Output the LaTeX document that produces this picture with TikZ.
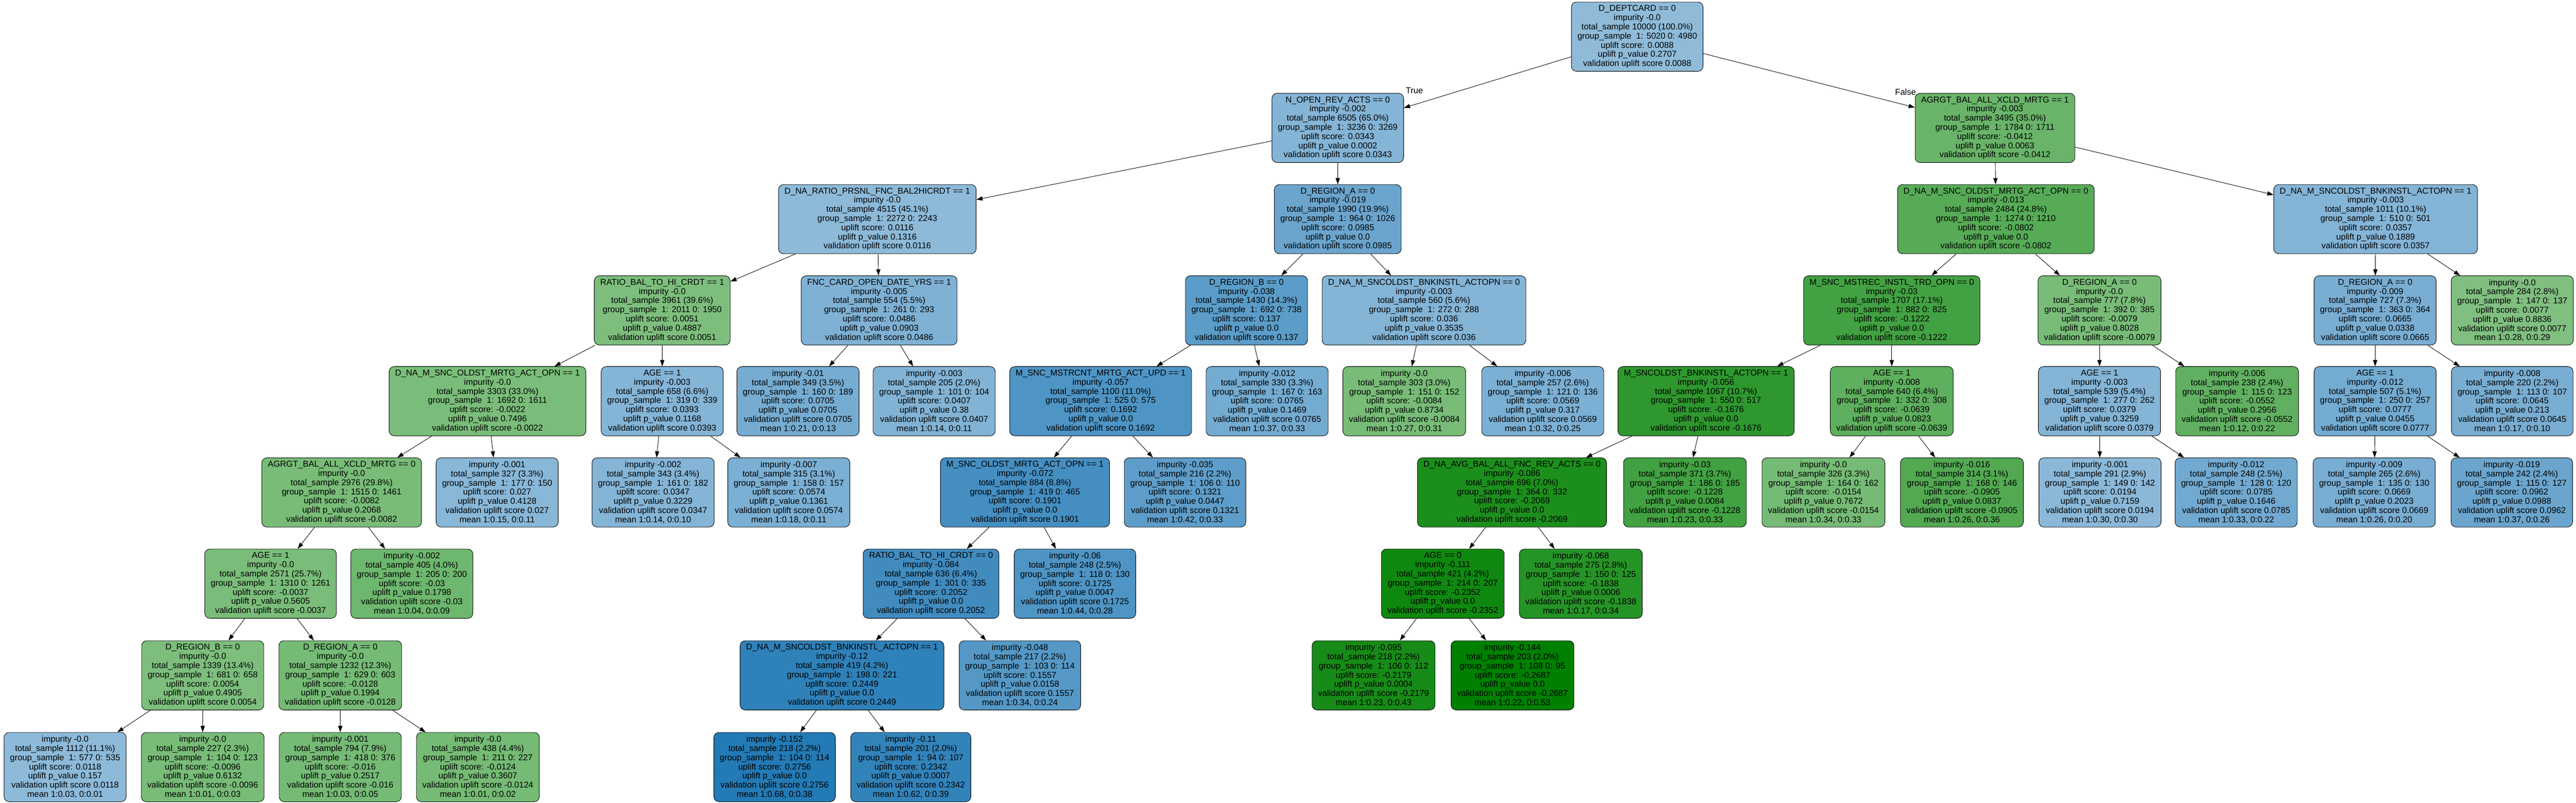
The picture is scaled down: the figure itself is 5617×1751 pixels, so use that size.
\documentclass[tikz,border=0pt]{standalone}
\usepackage{fontspec}
\setmainfont{Liberation Sans}
\usetikzlibrary{arrows.meta}
\definecolor{upblue}{RGB}{31,119,180}
\definecolor{upgreen}{RGB}{0,128,0}
\newcommand{\tstats}[6]{impurity #1\\total\_sample #2\\group\_sample\ \ 1: #3 0: #4\\uplift score: #5\\uplift p\_value #6\\validation uplift score #5}

\begin{document}
\begin{tikzpicture}[x=0.5pt,y=-0.5pt,
  every node/.style={font=\fontsize{9.3pt}{10pt}\selectfont},
  box/.style={draw,rounded corners=5.5pt,line width=0.5pt,align=center,minimum height=75.5pt,inner xsep=6.5pt,inner ysep=2pt},
  bl/.style={box,fill=upblue!#1},
  gr/.style={box,fill=upgreen!#1},
  link/.style={line width=0.5pt,-{Triangle[length=6.8pt,width=4.6pt]}}]
\useasboundingbox (0,0) rectangle (5617,1751);

\node[bl=50] (deptcard) at (3570,80) {D\_DEPTCARD == 0\\\tstats{-0.0}{10000 (100.0\%)}{5020}{4980}{0.0088}{0.2707}};

\node[bl=55] (openrev) at (2917,279) {N\_OPEN\_REV\_ACTS == 0\\\tstats{-0.002}{6505 (65.0\%)}{3236}{3269}{0.0343}{0.0002}};
\node[gr=59] (agrgtA) at (4350,279) {AGRGT\_BAL\_ALL\_XCLD\_MRTG == 1\\\tstats{-0.003}{3495 (35.0\%)}{1784}{1711}{-0.0412}{0.0063}};

\node[bl=51] (ratioprsnl) at (1913,478) {D\_NA\_RATIO\_PRSNL\_FNC\_BAL2HICRDT == 1\\\tstats{-0.0}{4515 (45.1\%)}{2272}{2243}{0.0116}{0.1316}};
\node[bl=66] (regAa) at (2917,478) {D\_REGION\_A == 0\\\tstats{-0.019}{1990 (19.9\%)}{964}{1026}{0.0985}{0.0}};
\node[gr=66] (oldstA) at (4352,478) {D\_NA\_M\_SNC\_OLDST\_MRTG\_ACT\_OPN == 0\\\tstats{-0.013}{2484 (24.8\%)}{1274}{1210}{-0.0802}{0.0}};
\node[bl=55] (bnkA) at (5180,478) {D\_NA\_M\_SNCOLDST\_BNKINSTL\_ACTOPN == 1\\\tstats{-0.003}{1011 (10.1\%)}{510}{501}{0.0357}{0.1889}};

\node[gr=51] (balhiA) at (1444,677) {RATIO\_BAL\_TO\_HI\_CRDT == 1\\\tstats{-0.0}{3961 (39.6\%)}{2011}{1950}{0.0051}{0.4887}};
\node[bl=57] (fnccard) at (1917,677) {FNC\_CARD\_OPEN\_DATE\_YRS == 1\\\tstats{-0.005}{554 (5.5\%)}{261}{293}{0.0486}{0.0903}};
\node[bl=73] (regB) at (2718,677) {D\_REGION\_B == 0\\\tstats{-0.038}{1430 (14.3\%)}{692}{738}{0.137}{0.0}};
\node[bl=55] (bnkB) at (3105,677) {D\_NA\_M\_SNCOLDST\_BNKINSTL\_ACTOPN == 0\\\tstats{-0.003}{560 (5.6\%)}{272}{288}{0.036}{0.3535}};
\node[gr=74] (mstrec) at (4125,677) {M\_SNC\_MSTREC\_INSTL\_TRD\_OPN == 0\\\tstats{-0.03}{1707 (17.1\%)}{882}{825}{-0.1222}{0.0}};
\node[gr=53] (regAb) at (4578,677) {D\_REGION\_A == 0\\\tstats{-0.0}{777 (7.8\%)}{392}{385}{-0.0079}{0.8028}};
\node[bl=60] (regAc) at (5179,677) {D\_REGION\_A == 0\\\tstats{-0.009}{727 (7.3\%)}{363}{364}{0.0665}{0.0338}};
\node[gr=50] (lf284) at (5478,677) {\tstats{-0.0}{284 (2.8\%)}{147}{137}{0.0077}{0.8836}\\mean 1:0.28, 0:0.29};

\node[gr=52] (oldstB) at (1063,875) {D\_NA\_M\_SNC\_OLDST\_MRTG\_ACT\_OPN == 1\\\tstats{-0.0}{3303 (33.0\%)}{1692}{1611}{-0.0022}{0.7496}};
\node[bl=55] (ageA) at (1444,875) {AGE == 1\\\tstats{-0.003}{658 (6.6\%)}{319}{339}{0.0393}{0.1168}};
\node[bl=61] (lf349) at (1740,875) {\tstats{-0.01}{349 (3.5\%)}{160}{189}{0.0705}{0.0705}\\mean 1:0.21, 0:0.13};
\node[bl=56] (lf205) at (2037,875) {\tstats{-0.003}{205 (2.0\%)}{101}{104}{0.0407}{0.38}\\mean 1:0.14, 0:0.11};
\node[bl=79] (mstrcnt) at (2400,875) {M\_SNC\_MSTRCNT\_MRTG\_ACT\_UPD == 1\\\tstats{-0.057}{1100 (11.0\%)}{525}{575}{0.1692}{0.0}};
\node[bl=62] (lf330) at (2763,875) {\tstats{-0.012}{330 (3.3\%)}{167}{163}{0.0765}{0.1469}\\mean 1:0.37, 0:0.33};
\node[gr=53] (lf303) at (3062,875) {\tstats{-0.0}{303 (3.0\%)}{151}{152}{-0.0084}{0.8734}\\mean 1:0.27, 0:0.31};
\node[bl=59] (lf257) at (3364,875) {\tstats{-0.006}{257 (2.6\%)}{121}{136}{0.0569}{0.317}\\mean 1:0.32, 0:0.25};
\node[gr=82] (bnkC) at (3720,875) {M\_SNCOLDST\_BNKINSTL\_ACTOPN == 1\\\tstats{-0.056}{1067 (10.7\%)}{550}{517}{-0.1676}{0.0}};
\node[gr=63] (ageB) at (4125,875) {AGE == 1\\\tstats{-0.008}{640 (6.4\%)}{332}{308}{-0.0639}{0.0823}};
\node[bl=55] (ageC) at (4578,875) {AGE == 1\\\tstats{-0.003}{539 (5.4\%)}{277}{262}{0.0379}{0.3259}};
\node[gr=62] (lf238) at (4878,875) {\tstats{-0.006}{238 (2.4\%)}{115}{123}{-0.0552}{0.2956}\\mean 1:0.12, 0:0.22};
\node[bl=62] (ageD) at (5179,875) {AGE == 1\\\tstats{-0.012}{507 (5.1\%)}{250}{257}{0.0777}{0.0455}};
\node[bl=60] (lf220) at (5478,875) {\tstats{-0.008}{220 (2.2\%)}{113}{107}{0.0645}{0.213}\\mean 1:0.17, 0:0.10};

\node[gr=53] (agrgtB) at (745,1074) {AGRGT\_BAL\_ALL\_XCLD\_MRTG == 0\\\tstats{-0.0}{2976 (29.8\%)}{1515}{1461}{-0.0082}{0.2068}};
\node[bl=53] (lf327) at (1084,1074) {\tstats{-0.001}{327 (3.3\%)}{177}{150}{0.027}{0.4128}\\mean 1:0.15, 0:0.11};
\node[bl=55] (lf343) at (1424,1074) {\tstats{-0.002}{343 (3.4\%)}{161}{182}{0.0347}{0.3229}\\mean 1:0.14, 0:0.10};
\node[bl=59] (lf315) at (1720,1074) {\tstats{-0.007}{315 (3.1\%)}{158}{157}{0.0574}{0.1361}\\mean 1:0.18, 0:0.11};
\node[bl=83] (oldstC) at (2235,1074) {M\_SNC\_OLDST\_MRTG\_ACT\_OPN == 1\\\tstats{-0.072}{884 (8.8\%)}{419}{465}{0.1901}{0.0}};
\node[bl=72] (lf216) at (2584,1074) {\tstats{-0.035}{216 (2.2\%)}{106}{110}{0.1321}{0.0447}\\mean 1:0.42, 0:0.33};
\node[gr=89] (avgbal) at (3297,1074) {D\_NA\_AVG\_BAL\_ALL\_FNC\_REV\_ACTS == 0\\\tstats{-0.086}{696 (7.0\%)}{364}{332}{-0.2069}{0.0}};
\node[gr=74] (lf371) at (3674,1074) {\tstats{-0.03}{371 (3.7\%)}{186}{185}{-0.1228}{0.0084}\\mean 1:0.23, 0:0.33};
\node[gr=54] (lf326) at (3976,1074) {\tstats{-0.0}{326 (3.3\%)}{164}{162}{-0.0154}{0.7672}\\mean 1:0.34, 0:0.33};
\node[gr=68] (lf314) at (4278,1074) {\tstats{-0.016}{314 (3.1\%)}{168}{146}{-0.0905}{0.0837}\\mean 1:0.26, 0:0.36};
\node[bl=52] (lf291) at (4579,1074) {\tstats{-0.001}{291 (2.9\%)}{149}{142}{0.0194}{0.7159}\\mean 1:0.30, 0:0.30};
\node[bl=63] (lf248) at (4876,1074) {\tstats{-0.012}{248 (2.5\%)}{128}{120}{0.0785}{0.1646}\\mean 1:0.33, 0:0.22};
\node[bl=60] (lf265) at (5177,1074) {\tstats{-0.009}{265 (2.6\%)}{135}{130}{0.0669}{0.2023}\\mean 1:0.26, 0:0.20};
\node[bl=66] (lf242) at (5477,1074) {\tstats{-0.019}{242 (2.4\%)}{115}{127}{0.0962}{0.0988}\\mean 1:0.37, 0:0.26};

\node[gr=52] (ageE) at (590,1273) {AGE == 1\\\tstats{-0.0}{2571 (25.7\%)}{1310}{1261}{-0.0037}{0.5605}};
\node[gr=57] (lf405) at (898,1273) {\tstats{-0.002}{405 (4.0\%)}{205}{200}{-0.03}{0.1798}\\mean 1:0.04, 0:0.09};
\node[bl=85] (balhiB) at (2030,1273) {RATIO\_BAL\_TO\_HI\_CRDT == 0\\\tstats{-0.084}{636 (6.4\%)}{301}{335}{0.2052}{0.0}};
\node[bl=79] (lf248b) at (2344,1273) {\tstats{-0.06}{248 (2.5\%)}{118}{130}{0.1725}{0.0047}\\mean 1:0.44, 0:0.28};
\node[gr=94] (ageF) at (3146,1273) {AGE == 0\\\tstats{-0.111}{421 (4.2\%)}{214}{207}{-0.2352}{0.0}};
\node[gr=85] (lf275) at (3447,1273) {\tstats{-0.068}{275 (2.8\%)}{150}{125}{-0.1838}{0.0006}\\mean 1:0.17, 0:0.34};

\node[gr=51] (regBb) at (442,1473) {D\_REGION\_B == 0\\\tstats{-0.0}{1339 (13.4\%)}{681}{658}{0.0054}{0.4905}};
\node[gr=54] (regAd) at (742,1473) {D\_REGION\_A == 0\\\tstats{-0.0}{1232 (12.3\%)}{629}{603}{-0.0128}{0.1994}};
\node[bl=93] (bnkD) at (1836,1473) {D\_NA\_M\_SNCOLDST\_BNKINSTL\_ACTOPN == 1\\\tstats{-0.12}{419 (4.2\%)}{198}{221}{0.2449}{0.0}};
\node[bl=76] (lf217) at (2224,1473) {\tstats{-0.048}{217 (2.2\%)}{103}{114}{0.1557}{0.0158}\\mean 1:0.34, 0:0.24};
\node[gr=91] (lf218a) at (2995,1473) {\tstats{-0.095}{218 (2.2\%)}{106}{112}{-0.2179}{0.0004}\\mean 1:0.23, 0:0.43};
\node[gr=100] (lf203) at (3298,1473) {\tstats{-0.144}{203 (2.0\%)}{108}{95}{-0.2687}{0.0}\\mean 1:0.22, 0:0.53};

\node[bl=51] (lf1112) at (142,1673) {\tstats{-0.0}{1112 (11.1\%)}{577}{535}{0.0118}{0.157}\\mean 1:0.03, 0:0.01};
\node[gr=53] (lf227) at (442,1673) {\tstats{-0.0}{227 (2.3\%)}{104}{123}{-0.0096}{0.6132}\\mean 1:0.01, 0:0.03};
\node[gr=54] (lf794) at (742,1673) {\tstats{-0.001}{794 (7.9\%)}{418}{376}{-0.016}{0.2517}\\mean 1:0.03, 0:0.05};
\node[gr=54] (lf438) at (1042,1673) {\tstats{-0.0}{438 (4.4\%)}{211}{227}{-0.0124}{0.3607}\\mean 1:0.01, 0:0.02};
\node[bl=98] (lf218b) at (1689,1673) {\tstats{-0.152}{218 (2.2\%)}{104}{114}{0.2756}{0.0}\\mean 1:0.68, 0:0.38};
\node[bl=91] (lf201) at (1986,1673) {\tstats{-0.11}{201 (2.0\%)}{94}{107}{0.2342}{0.0007}\\mean 1:0.62, 0:0.39};

\node (ltrue) at (3084,198) {True};
\node (lfalse) at (4155,201) {False};

\draw[link] (deptcard) -- (openrev);
\draw[link] (deptcard) -- (agrgtA);
\draw[link] (openrev) -- (ratioprsnl);
\draw[link] (openrev) -- (regAa);
\draw[link] (agrgtA) -- (oldstA);
\draw[link] (agrgtA) -- (bnkA);
\draw[link] (ratioprsnl) -- (balhiA);
\draw[link] (ratioprsnl) -- (fnccard);
\draw[link] (regAa) -- (regB);
\draw[link] (regAa) -- (bnkB);
\draw[link] (oldstA) -- (mstrec);
\draw[link] (oldstA) -- (regAb);
\draw[link] (bnkA) -- (regAc);
\draw[link] (bnkA) -- (lf284);
\draw[link] (balhiA) -- (oldstB);
\draw[link] (balhiA) -- (ageA);
\draw[link] (fnccard) -- (lf349);
\draw[link] (fnccard) -- (lf205);
\draw[link] (regB) -- (mstrcnt);
\draw[link] (regB) -- (lf330);
\draw[link] (bnkB) -- (lf303);
\draw[link] (bnkB) -- (lf257);
\draw[link] (mstrec) -- (bnkC);
\draw[link] (mstrec) -- (ageB);
\draw[link] (regAb) -- (ageC);
\draw[link] (regAb) -- (lf238);
\draw[link] (regAc) -- (ageD);
\draw[link] (regAc) -- (lf220);
\draw[link] (oldstB) -- (agrgtB);
\draw[link] (oldstB) -- (lf327);
\draw[link] (ageA) -- (lf343);
\draw[link] (ageA) -- (lf315);
\draw[link] (mstrcnt) -- (oldstC);
\draw[link] (mstrcnt) -- (lf216);
\draw[link] (bnkC) -- (avgbal);
\draw[link] (bnkC) -- (lf371);
\draw[link] (ageB) -- (lf326);
\draw[link] (ageB) -- (lf314);
\draw[link] (ageC) -- (lf291);
\draw[link] (ageC) -- (lf248);
\draw[link] (ageD) -- (lf265);
\draw[link] (ageD) -- (lf242);
\draw[link] (agrgtB) -- (ageE);
\draw[link] (agrgtB) -- (lf405);
\draw[link] (oldstC) -- (balhiB);
\draw[link] (oldstC) -- (lf248b);
\draw[link] (avgbal) -- (ageF);
\draw[link] (avgbal) -- (lf275);
\draw[link] (ageE) -- (regBb);
\draw[link] (ageE) -- (regAd);
\draw[link] (balhiB) -- (bnkD);
\draw[link] (balhiB) -- (lf217);
\draw[link] (ageF) -- (lf218a);
\draw[link] (ageF) -- (lf203);
\draw[link] (regBb) -- (lf1112);
\draw[link] (regBb) -- (lf227);
\draw[link] (regAd) -- (lf794);
\draw[link] (regAd) -- (lf438);
\draw[link] (bnkD) -- (lf218b);
\draw[link] (bnkD) -- (lf201);
\end{tikzpicture}
\end{document}
